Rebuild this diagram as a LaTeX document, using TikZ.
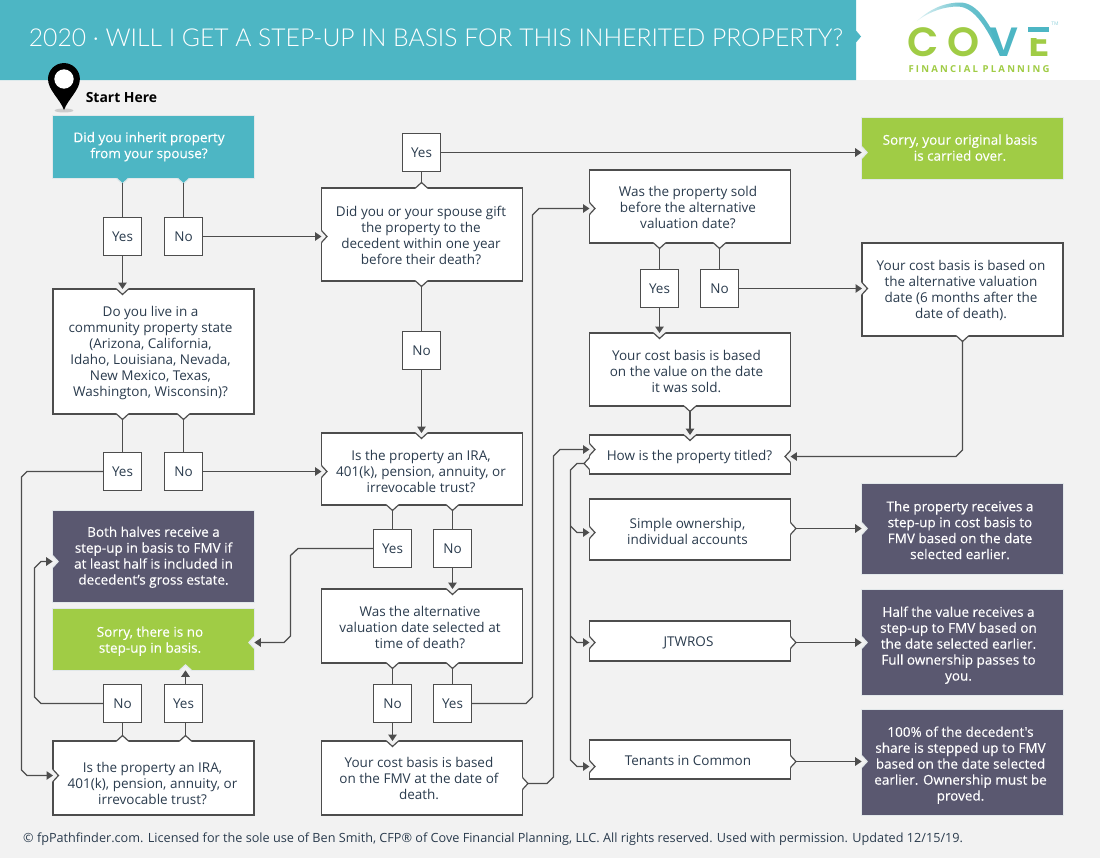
\documentclass[tikz,border=0pt]{standalone}
\usepackage{fontspec}
\setmainfont{Open Sans}
\newfontfamily\titlefont{Lato Light}
\newfontfamily\logofont{Poppins SemiBold}
\newfontfamily\logosubfont[LetterSpace=23]{Open Sans}
\newfontfamily\whitefont[FakeBold=0.25]{Open Sans}
\usetikzlibrary{arrows.meta}
\definecolor{pagebg}{HTML}{F2F2F2}
\definecolor{tealbox}{HTML}{4DB6C4}
\definecolor{greenbox}{HTML}{A0CC45}
\definecolor{darkbox}{HTML}{5A5870}
\definecolor{linecol}{HTML}{4D4D4D}
\definecolor{textcol}{HTML}{2A3B4D}
\definecolor{paleedge}{HTML}{E2E8EA}
\tikzset{>/.tip={Triangle[length=6.5pt,width=8.5pt]},
  qbox/.style={draw=linecol,fill=white,line width=1.3pt,outer sep=0pt,inner sep=0pt,
    minimum width=201bp,text=textcol,
    font=\fontsize{13.55}{16}\selectfont},
  colbox/.style={qbox,draw=paleedge,line width=0.7pt,text=white,minimum width=201.7bp,
    font=\whitefont\fontsize{13.55}{16}\selectfont},
  ansbox/.style={qbox,minimum width=37.5bp,minimum height=37.5bp},
  link/.style={draw=linecol,line width=1.3pt},
  linkout/.style={link,shorten <=5pt},
  linkin/.style={link,->},
  linkboth/.style={linkout,->}}
% chevron on a box edge: point, flow direction, fill, edge colour
\newcommand{\notch}[4]{%
  \begin{scope}[shift={#1},rotate=#2]
    \fill[#3] (-1pt,-6pt) -- (0pt,-6pt) -- (5.5pt,0pt) -- (0pt,6pt) -- (-1pt,6pt) -- cycle;
    \draw[#4,line width=1.2pt] (0pt,-6pt) -- (5.5pt,0pt) -- (0pt,6pt);
  \end{scope}}
% box text: moved left by #1, down by #2
\newcommand{\boxtext}[3]{\vbox{\kern\dimexpr2\dimexpr#2bp\relax\relax\hbox{\begin{tabular}{@{}c@{}}#3\end{tabular}\kern\dimexpr2\dimexpr#1bp\relax\relax}}}
\begin{document}
\begin{tikzpicture}[x=1bp,y=-1bp]
\useasboundingbox (0,0) rectangle (1100,858);
\fill[pagebg] (0,0) rectangle (1100,858);
\fill[white] (856,0) rectangle (1100,80);
\fill[tealbox] (0,0) -- (856,0) -- (856,30.5) -- (861,36.5) -- (856,42.5) -- (856,80) -- (0,80) -- cycle;
\node[text=white,anchor=center,inner sep=0pt,font=\titlefont\fontsize{24.77}{30}\selectfont] (title) at (436,38)
  {2020 · WILL I GET A STEP-UP IN BASIS FOR THIS INHERITED PROPERTY?};

% logo
\shade[left color=tealbox!15,right color=tealbox,middle color=tealbox!80]
  (917,21) .. controls (932,7) and (947,2.5) .. (960,2.5) .. controls (978,2.5) and (990,25) .. (1002,50)
  -- (1000,56) .. controls (988,30) and (975,7) .. (958,6.5) .. controls (945,6.5) and (930,11) .. (917,21) -- cycle;
\node[text=greenbox,font=\logofont\fontsize{41}{41}\selectfont,inner sep=0pt] (logoc) at (923,42) {C};
\node[text=greenbox,font=\logofont\fontsize{41}{41}\selectfont,inner sep=0pt] (logoo) at (964,42) {O};
\node[text=tealbox,font=\logofont\fontsize{41}{41}\selectfont,inner sep=0pt] (logov) at (1004,42) {V};
\node[text=greenbox,font=\logofont\fontsize{41}{41}\selectfont,inner sep=0pt] (logoe) at (1039,42) {E};
\fill[white] (1026,24) rectangle (1052,38);
\fill[tealbox] (1028,27) rectangle (1049,31.5);
\node[text=tealbox!60,font=\fontsize{5}{5}\selectfont,inner sep=0pt] (logotm) at (1055,24) {TM};
\node[text=greenbox,font=\logosubfont\bfseries\fontsize{9.6}{10}\selectfont,inner sep=0pt] (logosub) at (979,69)
  {FINANCIAL PLANNING};

% start marker
\fill[black!20] (64,110.5) ellipse [x radius=9.5pt,y radius=2pt];
\fill[black] (64,110) .. controls (60,99) and (48,90) .. (48,79) arc [start angle=180,end angle=0,radius=16pt]
  .. controls (80,90) and (68,99) .. (64,110) -- cycle;
\fill[white] (64,79) circle [radius=9.7pt];
\node[text=black,font=\bfseries\fontsize{14}{16}\selectfont,inner sep=0pt] (start) at (121.5,98) {Start Here};

% left column
\node[colbox,fill=tealbox,minimum height=62.7bp] (spouse) at (153.5,147) {\boxtext{4.5}{0}{Did you inherit property\\from your spouse?}};
\node[ansbox] (spouseyes) at (122.5,236.5) {Yes};
\node[ansbox] (spouseno) at (183.5,236.5) {No};
\node[qbox,minimum height=125bp] (community) at (153.5,351.5) {\boxtext{3}{2}{Do you live in a\\community property state\\(Arizona, California,\\Idaho, Louisiana, Nevada,\\New Mexico, Texas,\\Washington, Wisconsin)?}};
\node[ansbox] (communityyes) at (122.5,471.5) {Yes};
\node[ansbox] (communityno) at (183.5,471.5) {No};
\node[colbox,fill=darkbox,minimum height=91.7bp] (halves) at (153.5,556.5) {\boxtext{0}{1}{Both halves receive a\\step-up in basis to FMV if\\at least half is included in\\decedent’s gross estate.}};
\node[colbox,fill=greenbox,minimum height=61.7bp] (nostep) at (153.5,639.5) {\boxtext{3.5}{2}{Sorry, there is no\\step-up in basis.}};
\node[ansbox] (leftno) at (122.5,703.5) {No};
\node[ansbox] (leftyes) at (183.5,703.5) {Yes};
\node[qbox,minimum height=74bp] (leftira) at (153.5,778) {\boxtext{1}{7}{Is the property an IRA,\\401(k), pension, annuity, or\\irrevocable trust?}};

% middle column
\node[ansbox] (giftyes) at (421.5,152.5) {Yes};
\node[qbox,minimum height=93bp] (gift) at (422,234.5) {\boxtext{1}{3}{Did you or your spouse gift\\the property to the\\decedent within one year\\before their death?}};
\node[ansbox] (giftno) at (421.5,350.5) {No};
\node[qbox,minimum height=72bp] (midira) at (422,469) {\boxtext{1}{4}{Is the property an IRA,\\401(k), pension, annuity, or\\irrevocable trust?}};
\node[ansbox] (irayes) at (392.5,548.5) {Yes};
\node[ansbox] (irano) at (452.5,548.5) {No};
\node[qbox,minimum height=74bp] (altdate) at (422,626) {\boxtext{2}{3}{Was the alternative\\valuation date selected at\\time of death?}};
\node[ansbox] (altno) at (392.5,703.5) {No};
\node[ansbox] (altyes) at (452.5,703.5) {Yes};
\node[qbox,minimum height=74bp] (fmvdeath) at (422,778) {\boxtext{3}{2}{Your cost basis is based\\on the FMV at the date of\\death.}};

% right column
\node[qbox,minimum height=73bp] (sold) at (690,206.5) {\boxtext{2}{3}{Was the property sold\\before the alternative\\valuation date?}};
\node[ansbox] (soldyes) at (659.5,288.5) {Yes};
\node[ansbox] (soldno) at (719.5,288.5) {No};
\node[qbox,minimum height=73bp] (datesold) at (690,369.5) {\boxtext{3.5}{4}{Your cost basis is based\\on the value on the date\\it was sold.}};
\node[qbox,minimum height=39bp] (titled) at (690,454.5) {\boxtext{0.5}{2.5}{How is the property titled?}};
\node[qbox,minimum height=61bp] (simple) at (690,529.5) {\boxtext{2.5}{4}{Simple ownership,\\individual accounts}};
\node[qbox,minimum height=40bp] (jtwros) at (690,641) {\boxtext{1.5}{2}{JTWROS}};
\node[qbox,minimum height=39bp] (tenants) at (690,759.5) {\boxtext{2}{3}{Tenants in Common}};

% results
\node[colbox,fill=greenbox,minimum height=61.7bp] (carried) at (962.5,148.5) {\boxtext{2.5}{1}{Sorry, your original basis\\is carried over.}};
\node[qbox,minimum height=93bp] (altbasis) at (962.5,289.5) {\boxtext{1.5}{2}{Your cost basis is based on\\the alternative valuation\\date (6 months after the\\date of death).}};
\node[colbox,fill=darkbox,minimum height=90.7bp] (simpleres) at (962.5,529) {\boxtext{2.5}{3}{The property receives a\\step-up in cost basis to\\FMV based on the date\\selected earlier.}};
\node[colbox,fill=darkbox,minimum height=105.7bp] (jtwrosres) at (962.5,642.5) {\boxtext{4}{3}{Half the value receives a\\step-up to FMV based on\\the date selected earlier.\\Full ownership passes to\\you.}};
\node[colbox,fill=darkbox,minimum height=105.7bp] (tenantsres) at (962.5,762.5) {\boxtext{2}{3}{100\% of the decedent's\\share is stepped up to FMV\\based on the date selected\\earlier. Ownership must be\\proved.}};

% chevrons, then connectors
\notch{(spouse.south -| spouseyes)}{-90}{tealbox}{paleedge}
\notch{(spouse.south -| spouseno)}{-90}{tealbox}{paleedge}
\notch{(community.north -| spouseyes)}{-90}{pagebg}{linecol}
\notch{(community.south -| communityyes)}{-90}{white}{linecol}
\notch{(community.south -| communityno)}{-90}{white}{linecol}
\notch{(gift.west |- spouseno)}{0}{pagebg}{linecol}
\notch{(gift.north -| giftyes)}{90}{white}{linecol}
\notch{(gift.south -| giftno)}{-90}{white}{linecol}
\notch{(midira.north -| giftno)}{-90}{pagebg}{linecol}
\notch{(midira.west |- communityno)}{0}{pagebg}{linecol}
\notch{(midira.south -| irayes)}{-90}{white}{linecol}
\notch{(midira.south -| irano)}{-90}{white}{linecol}
\notch{(altdate.north -| irano)}{-90}{pagebg}{linecol}
\notch{(altdate.south -| altno)}{-90}{white}{linecol}
\notch{(altdate.south -| altyes)}{-90}{white}{linecol}
\notch{(fmvdeath.north -| altno)}{-90}{pagebg}{linecol}
\notch{(fmvdeath.east |- 0,783.5)}{0}{white}{linecol}
\notch{(nostep.east |- 0,642.5)}{180}{pagebg}{paleedge}
\notch{(nostep.south -| 185.5,0)}{90}{pagebg}{paleedge}
\notch{(halves.west |- 0,561.5)}{0}{pagebg}{paleedge}
\notch{(leftira.north -| leftno)}{90}{white}{linecol}
\notch{(leftira.north -| 185.5,0)}{90}{white}{linecol}
\notch{(leftira.west |- 0,775.5)}{0}{pagebg}{linecol}
\notch{(sold.west |- 0,208.5)}{0}{pagebg}{linecol}
\notch{(sold.south -| soldyes)}{-90}{white}{linecol}
\notch{(sold.south -| soldno)}{-90}{white}{linecol}
\notch{(datesold.north -| soldyes)}{-90}{pagebg}{linecol}
\notch{(datesold.south)}{-90}{white}{linecol}
\notch{(titled.north)}{-90}{pagebg}{linecol}
\notch{(titled.west |- 0,449.5)}{0}{pagebg}{linecol}
\notch{(titled.west |- 0,463.5)}{180}{white}{linecol}
\notch{(titled.east |- 0,456.5)}{180}{pagebg}{linecol}
\notch{(simple.west |- 0,532.5)}{0}{pagebg}{linecol}
\notch{(simple.east |- 0,528.5)}{0}{white}{linecol}
\notch{(jtwros.west |- 0,642.5)}{0}{pagebg}{linecol}
\notch{(jtwros.east |- 0,642.5)}{0}{white}{linecol}
\notch{(tenants.west |- 0,766.5)}{0}{pagebg}{linecol}
\notch{(tenants.east |- 0,761.5)}{0}{white}{linecol}
\notch{(carried.west |- giftyes)}{0}{pagebg}{paleedge}
\notch{(altbasis.west |- soldno)}{0}{pagebg}{linecol}
\notch{(altbasis.south)}{-90}{white}{linecol}
\notch{(simpleres.west |- 0,528.5)}{0}{pagebg}{paleedge}
\notch{(jtwrosres.west |- 0,642.5)}{0}{pagebg}{paleedge}
\notch{(tenantsres.west |- 0,761.5)}{0}{pagebg}{paleedge}

\draw[linkout] (spouse.south -| spouseyes) -- (spouseyes.north);
\draw[linkout] (spouse.south -| spouseno) -- (spouseno.north);
\draw[linkin] (spouseyes.south) -- (community.north -| spouseyes);
\draw[linkin] (spouseno.east) -- (gift.west |- spouseno);
\draw[linkout] (community.south -| communityyes) -- (communityyes.north);
\draw[linkout] (community.south -| communityno) -- (communityno.north);
\draw[linkin] (communityno.east) -- (midira.west |- communityno);
\draw[linkin] (communityyes.west) -- (27,471.5) -- (21.5,477) -- (21.5,770) -- (27,775.5) -- (leftira.west |- 0,775.5);
\draw[linkout] (leftira.north -| leftno) -- (leftno.south);
\draw[linkout] (leftira.north -| 185.5,0) -- (leftyes.south -| 185.5,0);
\draw[linkin] (leftyes.north -| 185.5,0) -- (nostep.south -| 185.5,0);
\draw[linkin] (leftno.west) -- (41,703.5) -- (34.5,697) -- (34.5,568) -- (41,561.5) -- (halves.west |- 0,561.5);

\draw[linkout] (gift.north -| giftyes) -- (giftyes.south);
\draw[linkin] (giftyes.east) -- (carried.west |- giftyes);
\draw[linkout] (gift.south -| giftno) -- (giftno.north);
\draw[linkin] (giftno.south) -- (midira.north -| giftno);
\draw[linkout] (midira.south -| irayes) -- (irayes.north);
\draw[linkout] (midira.south -| irano) -- (irano.north);
\draw[linkin] (irano.south) -- (altdate.north -| irano);
\draw[linkin] (irayes.west) -- (298,548.5) -- (290.5,555.5) -- (290.5,636) -- (284,642.5) -- (nostep.east |- 0,642.5);
\draw[linkout] (altdate.south -| altno) -- (altno.north);
\draw[linkout] (altdate.south -| altyes) -- (altyes.north);
\draw[linkin] (altno.south) -- (fmvdeath.north -| altno);
\draw[linkin] (altyes.east) -- (526,703.5) -- (532.5,697) -- (532.5,215) -- (539,208.5) -- (sold.west |- 0,208.5);
\draw[linkout,->] (fmvdeath.east |- 0,783.5) -- (547,783.5) -- (553.5,777) -- (553.5,456) -- (560,449.5) -- (titled.west |- 0,449.5);

\draw[linkout] (sold.south -| soldyes) -- (soldyes.north);
\draw[linkout] (sold.south -| soldno) -- (soldno.north);
\draw[linkin] (soldyes.south) -- (datesold.north -| soldyes);
\draw[linkin] (soldno.east) -- (altbasis.west |- soldno);
\draw[linkboth] (datesold.south) -- (titled.north);
\draw[linkboth] (altbasis.south) -- (962.5,450) -- (956,456.5) -- (titled.east |- 0,456.5);
\draw[linkboth] (titled.west |- 0,463.5) -- (577,463.5) -- (570.5,470) -- (570.5,760) -- (577,766.5) -- (tenants.west |- 0,766.5);
\draw[linkin] (570.5,526) -- (577,532.5) -- (simple.west |- 0,532.5);
\draw[linkin] (570.5,636) -- (577,642.5) -- (jtwros.west |- 0,642.5);
\draw[linkboth] (simple.east |- 0,528.5) -- (simpleres.west |- 0,528.5);
\draw[linkboth] (jtwros.east |- 0,642.5) -- (jtwrosres.west |- 0,642.5);
\draw[linkboth] (tenants.east |- 0,761.5) -- (tenantsres.west |- 0,761.5);

\node[anchor=west,text=textcol,inner sep=0pt,font=\fontsize{12.71}{14}\selectfont] (footer) at (23,839)
  {© fpPathfinder.com. Licensed for the sole use of Ben Smith, CFP® of Cove Financial Planning, LLC. All rights reserved. Used with permission. Updated 12/15/19.};
\end{tikzpicture}
\end{document}
